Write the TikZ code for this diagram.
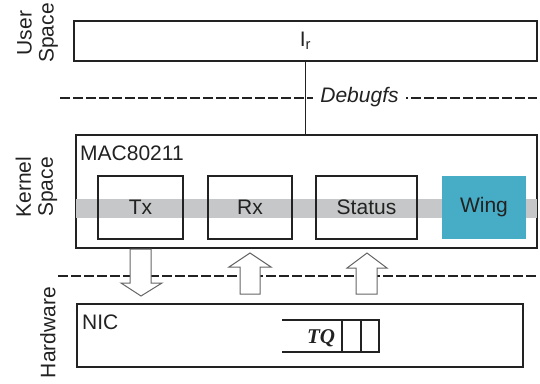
\documentclass[tikz,border=0pt]{standalone}
\usepackage{fontspec}
\setmainfont{Liberation Sans}
\newfontfamily\tqserif{Liberation Serif}
\definecolor{bandgray}{HTML}{C6C7C8}
\definecolor{wingblue}{HTML}{47ACC5}
\definecolor{ink}{HTML}{222222}
\begin{document}
\begin{tikzpicture}[x=1pt,y=-1pt,
  font=\fontsize{21}{23}\selectfont, text=ink,
  box/.style={draw=ink, line width=1.7pt, inner sep=0pt},
  sub/.style={box, minimum height=63pt},
  divider/.style={draw=ink, line width=2.5pt, dash pattern=on 9.5pt off 3.5pt},
  blockarrow/.style={draw=black!60, line width=1pt, fill=white, line join=miter},
  side/.style={rotate=90, align=center, inner sep=0pt, font=\fontsize{21}{22}\selectfont}]
\useasboundingbox (0,0) rectangle (540,383);

% side labels
\node[side] (userlbl) at (37.5,33) {User\\Space};
\node[side] (kernlbl) at (36.5,187) {Kernel\\Space};
\node[side] (hwlbl) at (47.8,332.5) {Hardware};

% dividers
\draw[divider] (60,98) -- (537,98);
\draw[divider] (58,276) -- (537,276);

% user space box
\node[box, minimum width=463pt, minimum height=40pt] (user) at (305.5,41) {I\textsubscript{r}};

% kernel box
\node[box, minimum width=461pt, minimum height=113pt] (mac) at (306.5,191.5) {};
\node[anchor=base west, inner sep=0pt] (maclabel) at (80,160) {MAC80211};
\fill[bandgray] (76,199) rectangle (537,218);

\node[sub, minimum width=85pt] (tx) at (140.5,207.5) {Tx};
\node[sub, minimum width=84pt] (rx) at (250,207.5) {Rx};
\node[sub, minimum width=101pt] (status) at (366.5,207.5) {Status};
\node[fill=wingblue, inner sep=0pt, minimum width=84pt, minimum height=63pt] (wing) at (484,207.5) {Wing};

% debugfs label and connector
\node[fill=white, inner xsep=7pt, inner ysep=0pt, anchor=base, font=\fontsize{21}{23}\selectfont\itshape] (dbg) at (359.5,102) {Debugfs};
\draw[box] (user.south) -- (user.south |- mac.north);

% NIC
\node[box, minimum width=446pt, minimum height=63pt] (nic) at (300,335.5) {};
\node[anchor=base west, inner sep=0pt] (niclabel) at (82,329) {NIC};
\draw[box] (282,320) -- (379,320) -- (379,352) -- (282,352);
\draw[box] (342,320) -- (342,352);
\draw[box] (361,320) -- (361,352);
\node[anchor=base, inner sep=0pt, font=\fontsize{21}{23}\selectfont\tqserif\bfseries\itshape] (tq) at (321,343) {TQ};

% block arrows
\draw[blockarrow] (130,249) -- (151,249) -- (151,283) -- (162,283) -- (141,296) -- (121,283) -- (130,283) -- cycle;
\draw[blockarrow] (240,294) -- (260,294) -- (260,267) -- (271,267) -- (250,253) -- (229,267) -- (240,267) -- cycle;
\draw[blockarrow] (356,294) -- (377,294) -- (377,268) -- (387,268) -- (367,253) -- (347,268) -- (356,268) -- cycle;
\end{tikzpicture}
\end{document}
